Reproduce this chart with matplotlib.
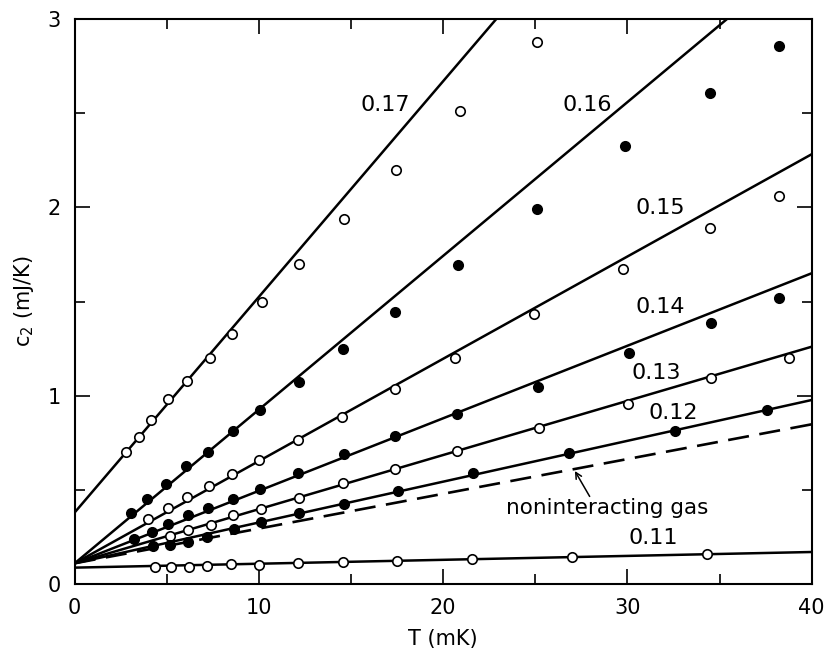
import numpy as np
import matplotlib
matplotlib.use("Agg")
import matplotlib.pyplot as plt
from matplotlib.ticker import MultipleLocator

# --- dane pomiarowe: c2(T) dla kolejnych koncentracji ---
T_017 = [2.78, 3.47, 4.16, 5.06, 6.08, 7.34, 8.52, 10.15, 12.2, 14.6, 17.45, 20.9, 25.07]
C_017 = [0.70, 0.78, 0.87, 0.98, 1.08, 1.20, 1.33, 1.50, 1.70, 1.94, 2.20, 2.51, 2.88]

T_016 = [3.05, 3.93, 4.95, 6.04, 7.25, 8.61, 10.05, 12.15, 14.58, 17.38, 20.81, 25.07, 29.86, 34.47, 38.23]
C_016 = [0.379, 0.452, 0.531, 0.627, 0.701, 0.815, 0.924, 1.073, 1.246, 1.446, 1.694, 1.99, 2.326, 2.609, 2.859]

T_015 = [3.96, 5.05, 6.08, 7.27, 8.55, 10.03, 12.12, 14.5, 17.38, 20.65, 24.94, 29.77, 34.5, 38.2]
C_015 = [0.347, 0.403, 0.463, 0.522, 0.584, 0.657, 0.767, 0.885, 1.034, 1.20, 1.432, 1.671, 1.89, 2.062]

T_014 = [3.22, 4.17, 5.07, 6.15, 7.26, 8.6, 10.05, 12.13, 14.6, 17.38, 20.73, 25.15, 30.08, 34.56, 38.23]
C_014 = [0.239, 0.276, 0.32, 0.366, 0.405, 0.452, 0.504, 0.587, 0.688, 0.786, 0.901, 1.048, 1.229, 1.388, 1.517]

T_013 = [5.15, 6.15, 7.38, 8.6, 10.12, 12.17, 14.58, 17.38, 20.76, 25.19, 30.04, 34.53, 38.76]
C_013 = [0.256, 0.286, 0.314, 0.365, 0.398, 0.459, 0.535, 0.611, 0.708, 0.830, 0.956, 1.092, 1.202]

T_012 = [4.27, 5.16, 6.16, 7.2, 8.65, 10.12, 12.19, 14.6, 17.56, 21.63, 26.84, 32.6, 37.6]
C_012 = [0.202, 0.208, 0.225, 0.251, 0.293, 0.330, 0.375, 0.425, 0.494, 0.591, 0.697, 0.813, 0.924]

T_011 = [4.36, 5.22, 6.2, 7.2, 8.46, 10.0, 12.1, 14.54, 17.5, 21.54, 27.0, 34.3]
C_011 = [0.092, 0.092, 0.092, 0.096, 0.104, 0.101, 0.11, 0.118, 0.124, 0.131, 0.145, 0.158]

# --- dopasowane proste: wartosc w T=0 i T=40 mK ---
FIT_T = [0, 40]
FIT_017 = [0.38, 4.96]
FIT_016 = [0.11, 3.375]
FIT_015 = [0.11, 2.282]
FIT_014 = [0.11, 1.65]
FIT_013 = [0.11, 1.26]
FIT_012 = [0.11, 0.977]
FIT_011 = [0.087, 0.17]
FIT_GAS = [0.11, 0.848]   # gaz nieoddzialujacy

SERIES = [
    ("0.17", T_017, C_017, FIT_017, False, (16.85, 2.545)),
    ("0.16", T_016, C_016, FIT_016, True, (27.8, 2.545)),
    ("0.15", T_015, C_015, FIT_015, False, (31.76, 1.995)),
    ("0.14", T_014, C_014, FIT_014, True, (31.76, 1.473)),
    ("0.13", T_013, C_013, FIT_013, False, (31.58, 1.119)),
    ("0.12", T_012, C_012, FIT_012, True, (32.48, 0.906)),
    ("0.11", T_011, C_011, FIT_011, False, (31.4, 0.243)),
]

fig = plt.figure(figsize=(8.29, 6.62), dpi=100)
ax = fig.add_axes([0.0901, 0.1178, 0.8890, 0.8535])

for label, t, c, fit, filled, pos in SERIES:
    ax.plot(FIT_T, fit, color="black", lw=1.8, zorder=2, solid_capstyle="butt")
    ax.plot(t, c, ls="none", marker="o", ms=6.8,
            mfc="black" if filled else "white", mec="black", mew=1.2, zorder=3)
    ax.text(pos[0], pos[1], label, fontsize=16, ha="center", va="center")

ax.plot(FIT_T, FIT_GAS, color="black", lw=1.9, dashes=(8, 4), zorder=2)
ax.text(28.9, 0.405, "noninteracting gas", fontsize=15.5, ha="center", va="center")
ax.annotate("", xy=(27.15, 0.60), xytext=(27.95, 0.465),
            arrowprops=dict(arrowstyle="->", color="black", lw=1.1,
                            mutation_scale=11, shrinkA=0, shrinkB=0))

ax.set_xlim(0, 40)
ax.set_ylim(0, 3)
ax.xaxis.set_major_locator(MultipleLocator(10))
ax.xaxis.set_minor_locator(MultipleLocator(5))
ax.yaxis.set_major_locator(MultipleLocator(1))
ax.yaxis.set_minor_locator(MultipleLocator(0.5))
ax.tick_params(which="both", direction="in", top=True, right=True,
               labelsize=15, width=1.2)
ax.tick_params(which="major", length=11, pad=10)
ax.tick_params(which="minor", length=7.5)
for s in ax.spines.values():
    s.set_linewidth(1.5)

ax.set_xlabel("T (mK)", fontsize=15, labelpad=8)
ax.set_ylabel("c$_2$ (mJ/K)", fontsize=15, labelpad=8)

fig.savefig("out.png", dpi=100)
